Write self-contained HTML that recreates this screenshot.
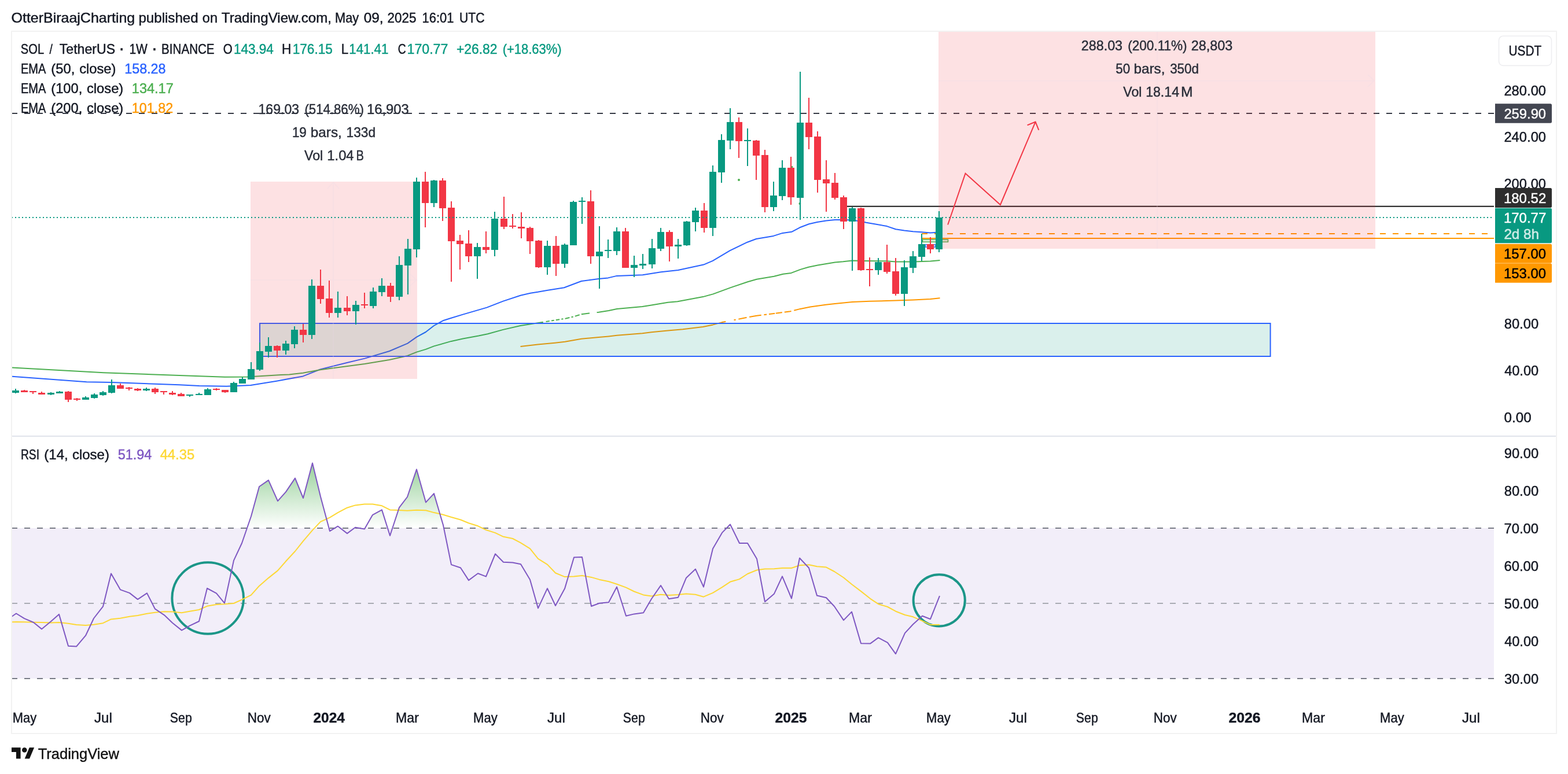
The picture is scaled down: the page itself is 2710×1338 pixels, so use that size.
<!DOCTYPE html>
<html lang="en"><head><meta charset="utf-8"><title>SOL / TetherUS chart</title>
<style>
html,body{margin:0;padding:0;background:#fff;}
body{width:2710px;height:1338px;overflow:hidden;font-family:"Liberation Sans", sans-serif;}
svg{display:block;font-family:"Liberation Sans", sans-serif;}
</style></head><body>
<svg width="2710" height="1338" viewBox="0 0 2710 1338">
<defs>
<linearGradient id="ob" gradientUnits="userSpaceOnUse" x1="0" y1="718" x2="0" y2="913">
<stop offset="0" stop-color="#4caf50" stop-opacity="1"/><stop offset="1" stop-color="#4caf50" stop-opacity="0"/></linearGradient>
<clipPath id="above70"><rect x="20" y="756" width="2562" height="157"/></clipPath>
<clipPath id="plot"><rect x="21" y="55" width="2561" height="1150"/></clipPath>
</defs>
<rect width="2710" height="1338" fill="#fff"/>

<text x="19.57" y="38.7" font-size="24" fill="#131722" stroke="#131722" stroke-width="0.45" textLength="213.65" lengthAdjust="spacingAndGlyphs">OtterBiraajCharting</text>
<text x="239.44" y="38.7" font-size="24" fill="#131722" stroke="#131722" stroke-width="0.45" textLength="103.21" lengthAdjust="spacingAndGlyphs">published</text>
<text x="349.87" y="38.7" font-size="24" fill="#131722" stroke="#131722" stroke-width="0.45" textLength="26.11" lengthAdjust="spacingAndGlyphs">on</text>
<text x="382.85" y="38.7" font-size="24" fill="#131722" stroke="#131722" stroke-width="0.45" textLength="190.18" lengthAdjust="spacingAndGlyphs">TradingView.com,</text>
<text x="579.01" y="38.7" font-size="24" fill="#131722" stroke="#131722" stroke-width="0.45" textLength="41.15" lengthAdjust="spacingAndGlyphs">May</text>
<text x="628.74" y="38.7" font-size="24" fill="#131722" stroke="#131722" stroke-width="0.45" textLength="33.86" lengthAdjust="spacingAndGlyphs">09,</text>
<text x="669.46" y="38.7" font-size="24" fill="#131722" stroke="#131722" stroke-width="0.45" textLength="49.93" lengthAdjust="spacingAndGlyphs">2025</text>
<text x="729.53" y="38.7" font-size="24" fill="#131722" stroke="#131722" stroke-width="0.45" textLength="54.81" lengthAdjust="spacingAndGlyphs">16:01</text>
<text x="793.98" y="38.7" font-size="24" fill="#131722" stroke="#131722" stroke-width="0.45" textLength="43.53" lengthAdjust="spacingAndGlyphs">UTC</text>
<rect x="20" y="54" width="2670" height="1214" fill="none" stroke="#f2f2f2" stroke-width="2"/>
<rect x="21" y="753" width="2668" height="2" fill="#e0e3eb"/>
<g clip-path="url(#plot)">
<rect x="21" y="913" width="2561" height="260" fill="#7e57c2" fill-opacity="0.1"/>
<line x1="20" y1="913" x2="2582" y2="913" stroke="#787b86" stroke-width="2" stroke-dasharray="10 12"/>
<line x1="20" y1="1043" x2="2582" y2="1043" stroke="#a9abb3" stroke-width="2" stroke-dasharray="10 12"/>
<line x1="20" y1="1173" x2="2582" y2="1173" stroke="#787b86" stroke-width="2" stroke-dasharray="10 12"/>
<polyline points="20.0,650.6 149.7,660.2 193.0,661.1 310.0,665.2 344.3,667.0 391.5,667.8 433.2,665.9 478.0,658.7 523.6,650.4 553.5,638.5 600.6,626.7 630.5,619.6 673.0,607.0 704.4,593.6 720.0,582.6 735.8,574.0 750.0,563.0 765.7,554.3 779.9,549.7 800.0,543.6 841.3,531.6 869.6,520.6 899.5,510.7 916.8,506.7 929.4,504.8 945.1,502.0 975.0,497.3 1004.8,486.0 1034.7,481.9 1051.0,480.4 1066.0,476.9 1110.8,475.3 1142.2,470.2 1172.0,467.0 1216.0,457.6 1231.8,450.8 1261.7,433.2 1291.6,418.7 1307.0,413.0 1336.8,407.9 1352.5,402.9 1368.2,400.8 1382.4,393.3 1398.1,387.2 1412.3,384.0 1428.0,381.5 1442.9,379.9 1457.9,379.9 1473.6,380.4 1487.7,382.8 1497.2,384.8 1516.0,388.0 1532.9,391.1 1548.0,396.3 1562.9,398.5 1578.0,400.2 1593.0,401.3 1608.0,402.4 1623.0,401.6" fill="none" stroke="#2962ff" stroke-width="2" stroke-linejoin="round"/>
<polyline points="20.0,635.4 178.9,644.2 310.0,648.9 388.4,651.8 427.7,651.4 485.8,648.1 500.0,647.4 523.6,644.7 553.5,639.2 600.6,633.0 630.5,629.0 673.0,622.0 704.4,614.9 720.0,608.6 735.8,603.9 750.0,598.4 779.9,589.9 800.0,585.5 827.2,580.6 842.9,577.2 869.6,569.9 899.5,563.0 921.5,559.4 945.1,555.8 962.4,553.1 978.1,550.4 990.7,547.6 1004.8,543.2 1020.6,541.3 1034.7,539.7 1052.0,536.9 1066.2,533.9 1110.2,530.0 1125.9,527.5 1154.2,522.8 1171.0,521.3 1215.0,513.1 1232.3,508.4 1262.2,497.4 1292.1,487.2 1307.8,482.8 1337.7,477.7 1353.4,473.8 1367.5,471.9 1383.3,465.9 1397.4,461.7 1413.1,458.4 1443.0,453.4 1457.2,452.3 1472.9,450.5 1494.9,451.0 1532.6,451.3 1548.0,452.4 1578.0,452.4 1593.0,451.9 1608.0,451.6 1624.5,450.1" fill="none" stroke="#4caf50" stroke-width="2" stroke-linejoin="round"/>
<polyline points="899.5,599.0 929.4,595.6 959.2,592.7 976.5,590.8 1004.8,585.7 1034.7,583.0 1052.0,581.4 1066.2,579.8 1110.2,576.2 1125.9,574.3 1154.2,571.5 1180.0,569.2 1215.0,565.0 1232.3,561.4 1248.0,557.1 1262.2,554.5 1292.1,548.5 1307.8,545.7 1337.7,541.9 1366.0,538.3 1383.3,533.9 1400.6,530.4 1427.3,526.8 1443.0,524.9 1473.0,522.1 1503.0,520.8 1548.0,519.6 1578.0,518.5 1608.0,516.9 1624.5,515.3" fill="none" stroke="#ff9800" stroke-width="2" stroke-linejoin="round"/>
<path d="M938.8 556.8L943.5 556.0M949.8 555.1L953.0 554.6M957.7 553.8L960.8 553.3M967.1 552.3L970.3 551.7M973.4 551.2L976.5 550.7M984.4 549.0L987.5 548.3M990.7 547.6L993.8 546.6M1001.7 544.2L1004.8 543.2M1019.0 541.5L1020.6 541.3L1031.6 540.1" fill="none" stroke="#fff" stroke-width="3.6"/>
<path d="M1254.3 555.9L1262.2 554.5L1268.5 553.2M1271.6 552.6L1276.4 551.7M1290.5 548.8L1292.1 548.5L1295.2 547.9M1315.7 544.7L1320.4 544.1M1325.1 543.5L1329.0 543.0M1339.2 541.7L1340.8 541.5M1351.8 540.1L1355.8 539.6M1367.5 537.9L1372.3 536.7" fill="none" stroke="#fff" stroke-width="3.6"/>
<circle cx="1277" cy="311" r="2" fill="#4caf50"/><circle cx="1382.4" cy="352" r="2" fill="#4caf50"/><circle cx="1369" cy="288.5" r="1.6" fill="#4caf50"/>
<line x1="20" y1="196" x2="2582" y2="196" stroke="#363a45" stroke-width="2" stroke-dasharray="10 12"/>
<line x1="1464" y1="356.7" x2="2582" y2="356.7" stroke="#1a1a1a" stroke-width="2"/>
<line x1="1593" y1="404" x2="2582" y2="404" stroke="#ff9800" stroke-width="2" stroke-dasharray="10 12"/>
<line x1="1594" y1="412" x2="2582" y2="412" stroke="#ff9800" stroke-width="2"/>
<rect x="1594.5" y="414.2" width="44" height="4" fill="#e8f5e9" stroke="#4caf50" stroke-width="1.5"/>
<rect x="1599" y="423" width="18" height="4" fill="#e3f2fd" stroke="#2962ff" stroke-width="1.5"/>
<rect x="449" y="559" width="1746.6" height="57" fill="#089981" fill-opacity="0.15" stroke="#2962ff" stroke-width="2"/>
<rect x="433" y="314" width="288" height="341" fill="#f23645" fill-opacity="0.15"/>
<rect x="1622" y="55" width="755" height="375" fill="#f23645" fill-opacity="0.15"/>
<g stroke="#ecd9e8" stroke-opacity="0.3" stroke-width="1.5" fill="none"><path d="M576 655V315M566 326l10-11 10 11M433 484H720M709 474l11 10-11 10"/><path d="M2000 430V55M1622 139.8H2376M2364 129l11 10.5-11 10.5"/></g>
<path d="M26 672h2V680h-2zM21 675h12V679h-12zM87 678h2V683h-2zM82 679h12V682h-12zM102 676h2V680h-2zM97 677h12V680h-12zM147 685h2V691h-2zM142 687h12V691h-12zM162 680h2V689h-2zM157 682h12V688h-12zM177 676h2V684h-2zM172 678h12V683h-12zM192 656h2V680h-2zM187 666h12V679h-12zM252 670h2V676h-2zM247 672h12V675h-12zM327 682h2V686h-2zM322 682h12V684h-12zM343 679h2V683h-2zM338 681h12V683h-12zM358 671h2V683h-2zM353 673h12V683h-12zM403 660h2V678h-2zM398 662h12V678h-12zM418 652h2V663h-2zM413 655h12V663h-12zM433 626h2V656h-2zM428 638h12V656h-12zM448 592h2V641h-2zM443 607h12V639h-12zM463 583h2V618h-2zM458 598h12V608h-12zM493 589h2V613h-2zM488 594h12V606h-12zM508 564h2V602h-2zM503 570h12V595h-12zM538 483h2V586h-2zM533 494h12V579h-12zM583 504h2V549h-2zM578 532h12V541h-12zM614 520h2V561h-2zM609 527h12V538h-12zM644 497h2V533h-2zM639 504h12V529h-12zM659 481h2V512h-2zM654 494h12V505h-12zM689 443h2V519h-2zM684 458h12V513h-12zM704 413h2V509h-2zM699 430h12V459h-12zM719 307h2V445h-2zM714 314h12V431h-12zM749 311h2V358h-2zM744 312h12V351h-12zM824 420h2V482h-2zM819 427h12V443h-12zM854 366h2V443h-2zM849 378h12V432h-12zM945 416h2V475h-2zM940 425h12V462h-12zM975 421h2V463h-2zM970 423h12V456h-12zM990 347h2V424h-2zM985 349h12V424h-12zM1005 341h2V387h-2zM1000 347h12V349h-12zM1035 391h2V499h-2zM1030 435h12V443h-12zM1050 414h2V446h-2zM1045 432h12V434h-12zM1065 393h2V441h-2zM1060 400h12V434h-12zM1095 442h2V479h-2zM1090 458h12V463h-12zM1110 439h2V465h-2zM1105 456h12V459h-12zM1126 413h2V464h-2zM1121 429h12V457h-12zM1141 394h2V434h-2zM1136 401h12V430h-12zM1171 413h2V447h-2zM1166 423h12V426h-12zM1186 382h2V425h-2zM1181 383h12V424h-12zM1201 359h2V400h-2zM1196 364h12V384h-12zM1231 286h2V408h-2zM1226 297h12V394h-12zM1246 232h2V316h-2zM1241 242h12V298h-12zM1261 187h2V258h-2zM1256 211h12V243h-12zM1291 222h2V287h-2zM1286 242h12V244h-12zM1336 314h2V365h-2zM1331 338h12V358h-12zM1351 277h2V346h-2zM1346 290h12V339h-12zM1382 124h2V380h-2zM1377 212h12V342h-12zM1472 358h2V468h-2zM1467 360h12V383h-12zM1517 446h2V475h-2zM1512 453h12V467h-12zM1562 450h2V529h-2zM1557 462h12V508h-12zM1577 434h2V472h-2zM1572 443h12V463h-12zM1592 404h2V451h-2zM1587 422h12V444h-12zM1622 365h2V436h-2zM1617 376h12V431h-12z" fill="#089981"/>
<path d="M41 674h2V678h-2zM36 675h12V678h-12zM56 676h2V681h-2zM51 676h12V678h-12zM71 677h2V682h-2zM66 679h12V682h-12zM117 676h2V695h-2zM112 677h12V691h-12zM132 688h2V693h-2zM127 689h12V691h-12zM207 663h2V672h-2zM202 666h12V672h-12zM222 669h2V675h-2zM217 670h12V672h-12zM237 671h2V676h-2zM232 672h12V675h-12zM267 670h2V681h-2zM262 672h12V678h-12zM282 676h2V682h-2zM277 676h12V678h-12zM297 676h2V683h-2zM292 679h12V682h-12zM312 679h2V685h-2zM307 681h12V685h-12zM373 671h2V675h-2zM368 672h12V674h-12zM388 674h2V679h-2zM383 674h12V678h-12zM478 597h2V618h-2zM473 598h12V606h-12zM523 560h2V592h-2zM518 570h12V579h-12zM553 466h2V525h-2zM548 494h12V517h-12zM568 485h2V549h-2zM563 516h12V541h-12zM599 512h2V545h-2zM594 532h12V538h-12zM629 506h2V533h-2zM624 526h12V528h-12zM674 489h2V522h-2zM669 494h12V513h-12zM734 297h2V393h-2zM729 314h12V351h-12zM764 308h2V382h-2zM759 312h12V360h-12zM779 348h2V487h-2zM774 359h12V417h-12zM794 406h2V466h-2zM789 416h12V422h-12zM809 398h2V453h-2zM804 421h12V443h-12zM839 400h2V438h-2zM834 427h12V432h-12zM870 340h2V396h-2zM865 378h12V392h-12zM885 370h2V395h-2zM880 390h12V392h-12zM900 367h2V412h-2zM895 392h12V395h-12zM915 392h2V439h-2zM910 394h12V417h-12zM930 415h2V463h-2zM925 416h12V462h-12zM960 408h2V477h-2zM955 425h12V456h-12zM1020 329h2V456h-2zM1015 348h12V443h-12zM1080 394h2V463h-2zM1075 400h12V463h-12zM1156 398h2V452h-2zM1151 401h12V426h-12zM1216 351h2V402h-2zM1211 364h12V394h-12zM1276 203h2V273h-2zM1271 211h12V244h-12zM1306 242h2V311h-2zM1301 243h12V269h-12zM1321 259h2V367h-2zM1316 268h12V358h-12zM1366 271h2V354h-2zM1361 290h12V341h-12zM1397 169h2V258h-2zM1392 212h12V237h-12zM1412 227h2V333h-2zM1407 236h12V311h-12zM1427 277h2V366h-2zM1422 310h12V317h-12zM1442 299h2V345h-2zM1437 316h12V342h-12zM1457 338h2V396h-2zM1452 341h12V383h-12zM1487 359h2V468h-2zM1482 360h12V467h-12zM1502 445h2V495h-2zM1497 465h12V467h-12zM1532 423h2V473h-2zM1527 453h12V470h-12zM1547 446h2V511h-2zM1542 469h12V508h-12zM1607 410h2V438h-2zM1602 422h12V431h-12z" fill="#f23645"/>
<line x1="20" y1="376" x2="2582" y2="376" stroke="#089981" stroke-width="2" stroke-dasharray="2 4"/>
<path d="M1638.1 388.5L1668.5 299.8L1728.9 354L1789.6 210.6M1775.5 216.4L1789.6 210.6L1795.3 224.9" fill="none" stroke="#f23645" stroke-width="2" stroke-linejoin="miter"/>
<circle cx="359.2" cy="1034" r="61.8" fill="none" stroke="#1b9688" stroke-width="4"/>
<circle cx="1623.2" cy="1037.8" r="44.6" fill="none" stroke="#1b9688" stroke-width="4"/>
<polygon points="20,913 20.0,1066.1 28.0,1060.5 42.0,1069.2 58.0,1076.0 72.0,1087.4 88.0,1074.3 102.0,1061.9 118.0,1116.8 132.0,1117.6 148.0,1098.7 162.0,1069.0 178.0,1048.4 192.0,991.4 208.0,1019.4 224.0,1025.1 238.0,1036.1 254.0,1025.4 268.0,1052.7 284.0,1063.3 298.0,1076.7 314.0,1089.6 328.0,1081.7 344.0,1074.0 358.0,1017.0 374.0,1025.7 388.0,1042.6 404.0,968.9 418.0,939.0 434.0,892.5 448.0,841.3 464.0,830.1 480.0,866.1 494.0,850.4 510.0,826.6 524.0,861.0 540.0,800.4 554.0,858.6 570.0,918.2 584.0,909.7 600.0,922.1 614.0,911.7 630.0,914.6 644.0,890.1 660.0,881.4 674.0,926.0 690.0,877.3 704.0,859.0 720.0,811.4 736.0,868.4 750.0,853.1 766.0,907.8 780.0,976.1 796.0,981.5 810.0,1003.1 826.0,991.3 840.0,996.6 856.0,957.5 870.0,971.8 886.0,972.5 900.0,975.2 916.0,1001.9 930.0,1051.4 946.0,1017.2 960.0,1047.0 976.0,1017.6 992.0,963.5 1006.0,963.1 1022.0,1048.0 1036.0,1042.7 1052.0,1041.2 1066.0,1014.6 1082.0,1064.7 1096.0,1061.4 1112.0,1059.2 1126.0,1035.3 1142.0,1012.1 1156.0,1035.3 1172.0,1032.7 1186.0,998.9 1202.0,983.8 1216.0,1014.6 1232.0,948.4 1248.0,920.9 1262.0,906.5 1278.0,939.0 1292.0,939.0 1308.0,965.9 1322.0,1040.2 1338.0,1026.4 1352.0,996.4 1368.0,1034.5 1382.0,964.7 1398.0,981.7 1412.0,1029.6 1428.0,1033.2 1442.0,1048.2 1458.0,1072.1 1472.0,1057.6 1488.0,1112.2 1504.0,1112.6 1518.0,1102.4 1534.0,1110.9 1548.0,1130.3 1564.0,1094.4 1578.0,1079.2 1594.0,1064.7 1608.0,1070.2 1624.0,1030.1 1624,913" fill="url(#ob)" clip-path="url(#above70)"/>
<polyline points="20.0,1075.3 28.0,1074.9 42.0,1075.3 58.0,1075.7 72.0,1076.0 88.0,1076.5 102.0,1076.0 118.0,1077.7 132.0,1080.0 148.0,1081.0 162.0,1079.7 178.0,1077.2 192.0,1070.4 208.0,1068.7 224.0,1065.8 238.0,1064.0 254.0,1060.7 268.0,1058.8 284.0,1057.2 298.0,1057.6 314.0,1059.2 328.0,1056.8 344.0,1054.0 358.0,1047.8 374.0,1045.0 388.0,1044.3 404.0,1043.0 418.0,1036.7 434.0,1028.6 448.0,1012.9 464.0,999.1 480.0,986.4 494.0,970.3 510.0,953.0 524.0,935.3 540.0,916.6 554.0,901.9 570.0,894.6 584.0,886.1 600.0,877.7 614.0,873.4 630.0,871.4 644.0,871.6 660.0,874.3 674.0,881.4 690.0,882.0 704.0,882.8 720.0,881.8 736.0,882.2 750.0,886.1 766.0,889.7 780.0,894.0 796.0,898.5 810.0,904.2 826.0,909.3 840.0,916.0 856.0,921.1 870.0,927.8 886.0,931.0 900.0,938.3 916.0,948.4 930.0,965.9 946.0,975.9 960.0,990.5 976.0,997.1 992.0,996.5 1006.0,995.0 1022.0,997.9 1036.0,1001.9 1052.0,1005.2 1066.0,1009.7 1082.0,1015.6 1096.0,1022.5 1112.0,1028.4 1126.0,1030.4 1142.0,1027.8 1156.0,1029.0 1172.0,1028.0 1186.0,1026.4 1202.0,1027.8 1216.0,1031.7 1232.0,1024.9 1248.0,1015.2 1262.0,1005.8 1278.0,1001.1 1292.0,992.0 1308.0,985.5 1322.0,983.6 1338.0,983.2 1352.0,982.0 1368.0,982.0 1382.0,977.3 1398.0,976.2 1412.0,979.3 1428.0,980.6 1442.0,988.0 1458.0,998.5 1472.0,1010.0 1488.0,1022.1 1504.0,1034.8 1518.0,1044.2 1534.0,1049.0 1548.0,1056.7 1564.0,1063.0 1578.0,1066.3 1594.0,1073.3 1608.0,1079.9 1624.0,1079.9" fill="none" stroke="#fdd835" stroke-width="2" stroke-linejoin="round"/>
<polyline points="20.0,1066.1 28.0,1060.5 42.0,1069.2 58.0,1076.0 72.0,1087.4 88.0,1074.3 102.0,1061.9 118.0,1116.8 132.0,1117.6 148.0,1098.7 162.0,1069.0 178.0,1048.4 192.0,991.4 208.0,1019.4 224.0,1025.1 238.0,1036.1 254.0,1025.4 268.0,1052.7 284.0,1063.3 298.0,1076.7 314.0,1089.6 328.0,1081.7 344.0,1074.0 358.0,1017.0 374.0,1025.7 388.0,1042.6 404.0,968.9 418.0,939.0 434.0,892.5 448.0,841.3 464.0,830.1 480.0,866.1 494.0,850.4 510.0,826.6 524.0,861.0 540.0,800.4 554.0,858.6 570.0,918.2 584.0,909.7 600.0,922.1 614.0,911.7 630.0,914.6 644.0,890.1 660.0,881.4 674.0,926.0 690.0,877.3 704.0,859.0 720.0,811.4 736.0,868.4 750.0,853.1 766.0,907.8 780.0,976.1 796.0,981.5 810.0,1003.1 826.0,991.3 840.0,996.6 856.0,957.5 870.0,971.8 886.0,972.5 900.0,975.2 916.0,1001.9 930.0,1051.4 946.0,1017.2 960.0,1047.0 976.0,1017.6 992.0,963.5 1006.0,963.1 1022.0,1048.0 1036.0,1042.7 1052.0,1041.2 1066.0,1014.6 1082.0,1064.7 1096.0,1061.4 1112.0,1059.2 1126.0,1035.3 1142.0,1012.1 1156.0,1035.3 1172.0,1032.7 1186.0,998.9 1202.0,983.8 1216.0,1014.6 1232.0,948.4 1248.0,920.9 1262.0,906.5 1278.0,939.0 1292.0,939.0 1308.0,965.9 1322.0,1040.2 1338.0,1026.4 1352.0,996.4 1368.0,1034.5 1382.0,964.7 1398.0,981.7 1412.0,1029.6 1428.0,1033.2 1442.0,1048.2 1458.0,1072.1 1472.0,1057.6 1488.0,1112.2 1504.0,1112.6 1518.0,1102.4 1534.0,1110.9 1548.0,1130.3 1564.0,1094.4 1578.0,1079.2 1594.0,1064.7 1608.0,1070.2 1624.0,1030.1" fill="none" stroke="#7e57c2" stroke-width="2" stroke-linejoin="round"/>
</g>
<text x="446.56" y="196.7" font-size="24" fill="#2a2e39" stroke="#2a2e39" stroke-width="0.45" textLength="70.47" lengthAdjust="spacingAndGlyphs">169.03</text>
<text x="526.44" y="196.7" font-size="24" fill="#2a2e39" stroke="#2a2e39" stroke-width="0.45" textLength="102.40" lengthAdjust="spacingAndGlyphs">(514.86%)</text>
<text x="634.01" y="196.7" font-size="24" fill="#2a2e39" stroke="#2a2e39" stroke-width="0.45" textLength="72.84" lengthAdjust="spacingAndGlyphs">16,903</text>
<text x="504.90" y="236.6" font-size="24" fill="#2a2e39" stroke="#2a2e39" stroke-width="0.45" textLength="24.96" lengthAdjust="spacingAndGlyphs">19</text>
<text x="536.83" y="236.6" font-size="24" fill="#2a2e39" stroke="#2a2e39" stroke-width="0.45" textLength="54.05" lengthAdjust="spacingAndGlyphs">bars,</text>
<text x="598.58" y="236.6" font-size="24" fill="#2a2e39" stroke="#2a2e39" stroke-width="0.45" textLength="50.50" lengthAdjust="spacingAndGlyphs">133d</text>
<text x="525.94" y="276.8" font-size="24" fill="#2a2e39" stroke="#2a2e39" stroke-width="0.45" textLength="32.29" lengthAdjust="spacingAndGlyphs">Vol</text>
<text x="565.32" y="276.8" font-size="24" fill="#2a2e39" stroke="#2a2e39" stroke-width="0.45" textLength="46.25" lengthAdjust="spacingAndGlyphs">1.04</text>
<text x="615.43" y="276.8" font-size="24" fill="#2a2e39" stroke="#2a2e39" stroke-width="0.45" textLength="13.42" lengthAdjust="spacingAndGlyphs">B</text>
<text x="1868.83" y="86.7" font-size="24" fill="#2a2e39" stroke="#2a2e39" stroke-width="0.45" textLength="71.21" lengthAdjust="spacingAndGlyphs">288.03</text>
<text x="1949.23" y="86.7" font-size="24" fill="#2a2e39" stroke="#2a2e39" stroke-width="0.45" textLength="102.41" lengthAdjust="spacingAndGlyphs">(200.11%)</text>
<text x="2058.63" y="86.7" font-size="24" fill="#2a2e39" stroke="#2a2e39" stroke-width="0.45" textLength="71.51" lengthAdjust="spacingAndGlyphs">28,803</text>
<text x="1928.30" y="126.6" font-size="24" fill="#2a2e39" stroke="#2a2e39" stroke-width="0.45" textLength="24.85" lengthAdjust="spacingAndGlyphs">50</text>
<text x="1959.64" y="126.6" font-size="24" fill="#2a2e39" stroke="#2a2e39" stroke-width="0.45" textLength="53.84" lengthAdjust="spacingAndGlyphs">bars,</text>
<text x="2022.13" y="126.6" font-size="24" fill="#2a2e39" stroke="#2a2e39" stroke-width="0.45" textLength="49.93" lengthAdjust="spacingAndGlyphs">350d</text>
<text x="1941.34" y="166.8" font-size="24" fill="#2a2e39" stroke="#2a2e39" stroke-width="0.45" textLength="31.98" lengthAdjust="spacingAndGlyphs">Vol</text>
<text x="1980.16" y="166.8" font-size="24" fill="#2a2e39" stroke="#2a2e39" stroke-width="0.45" textLength="57.85" lengthAdjust="spacingAndGlyphs">18.14</text>
<text x="2040.91" y="166.8" font-size="24" fill="#2a2e39" stroke="#2a2e39" stroke-width="0.45" textLength="20.48" lengthAdjust="spacingAndGlyphs">M</text>
<text x="35.87" y="92.7" font-size="24" fill="#131722" stroke="#131722" stroke-width="0.45" textLength="40.22" lengthAdjust="spacingAndGlyphs">SOL</text>
<text x="85.50" y="92.7" font-size="24" fill="#131722" stroke="#131722" stroke-width="0.45" textLength="5.34" lengthAdjust="spacingAndGlyphs">/</text>
<text x="102.76" y="92.7" font-size="24" fill="#131722" stroke="#131722" stroke-width="0.45" textLength="96.31" lengthAdjust="spacingAndGlyphs">TetherUS</text>
<text x="223.39" y="92.7" font-size="24" fill="#131722" stroke="#131722" stroke-width="0.45" textLength="31.49" lengthAdjust="spacingAndGlyphs">1W</text>
<text x="279.10" y="92.7" font-size="24" fill="#131722" stroke="#131722" stroke-width="0.45" textLength="91.49" lengthAdjust="spacingAndGlyphs">BINANCE</text>
<text x="385.66" y="92.7" font-size="24" fill="#131722" stroke="#131722" stroke-width="0.45" textLength="15.93" lengthAdjust="spacingAndGlyphs">O</text>
<text x="487.05" y="92.7" font-size="24" fill="#131722" stroke="#131722" stroke-width="0.45" textLength="16.35" lengthAdjust="spacingAndGlyphs">H</text>
<text x="589.68" y="92.7" font-size="24" fill="#131722" stroke="#131722" stroke-width="0.45" textLength="12.39" lengthAdjust="spacingAndGlyphs">L</text>
<text x="687.80" y="92.7" font-size="24" fill="#131722" stroke="#131722" stroke-width="0.45" textLength="13.88" lengthAdjust="spacingAndGlyphs">C</text>
<text x="205.05" y="94.2" font-size="32" fill="#131722" stroke="#131722" stroke-width="0.45" textLength="10.51" lengthAdjust="spacingAndGlyphs">·</text>
<text x="261.55" y="94.2" font-size="32" fill="#131722" stroke="#131722" stroke-width="0.45" textLength="10.80" lengthAdjust="spacingAndGlyphs">·</text>
<text x="403.99" y="92.7" font-size="24" fill="#089981" stroke="#089981" stroke-width="0.45" textLength="68.89" lengthAdjust="spacingAndGlyphs">143.94</text>
<text x="505.69" y="92.7" font-size="24" fill="#089981" stroke="#089981" stroke-width="0.45" textLength="69.13" lengthAdjust="spacingAndGlyphs">176.15</text>
<text x="603.31" y="92.7" font-size="24" fill="#089981" stroke="#089981" stroke-width="0.45" textLength="68.03" lengthAdjust="spacingAndGlyphs">141.41</text>
<text x="703.55" y="92.7" font-size="24" fill="#089981" stroke="#089981" stroke-width="0.45" textLength="70.82" lengthAdjust="spacingAndGlyphs">170.77</text>
<text x="788.99" y="92.7" font-size="24" fill="#089981" stroke="#089981" stroke-width="0.45" textLength="70.50" lengthAdjust="spacingAndGlyphs">+26.82</text>
<text x="868.76" y="92.7" font-size="24" fill="#089981" stroke="#089981" stroke-width="0.45" textLength="101.80" lengthAdjust="spacingAndGlyphs">(+18.63%)</text>
<text x="35.99" y="126.9" font-size="24" fill="#131722" stroke="#131722" stroke-width="0.45" textLength="43.36" lengthAdjust="spacingAndGlyphs">EMA</text>
<text x="88.36" y="126.9" font-size="24" fill="#131722" stroke="#131722" stroke-width="0.45" textLength="40.98" lengthAdjust="spacingAndGlyphs">(50,</text>
<text x="137.16" y="126.9" font-size="24" fill="#131722" stroke="#131722" stroke-width="0.45" textLength="63.31" lengthAdjust="spacingAndGlyphs">close)</text>
<text x="215.24" y="126.9" font-size="24" fill="#2962ff" stroke="#2962ff" stroke-width="0.45" textLength="71.29" lengthAdjust="spacingAndGlyphs">158.28</text>
<text x="35.99" y="160.9" font-size="24" fill="#131722" stroke="#131722" stroke-width="0.45" textLength="43.36" lengthAdjust="spacingAndGlyphs">EMA</text>
<text x="88.37" y="160.9" font-size="24" fill="#131722" stroke="#131722" stroke-width="0.45" textLength="53.85" lengthAdjust="spacingAndGlyphs">(100,</text>
<text x="149.96" y="160.9" font-size="24" fill="#131722" stroke="#131722" stroke-width="0.45" textLength="63.31" lengthAdjust="spacingAndGlyphs">close)</text>
<text x="227.83" y="160.9" font-size="24" fill="#4caf50" stroke="#4caf50" stroke-width="0.45" textLength="71.96" lengthAdjust="spacingAndGlyphs">134.17</text>
<text x="35.99" y="194.9" font-size="24" fill="#131722" stroke="#131722" stroke-width="0.45" textLength="43.36" lengthAdjust="spacingAndGlyphs">EMA</text>
<text x="88.37" y="194.9" font-size="24" fill="#131722" stroke="#131722" stroke-width="0.45" textLength="53.85" lengthAdjust="spacingAndGlyphs">(200,</text>
<text x="149.96" y="194.9" font-size="24" fill="#131722" stroke="#131722" stroke-width="0.45" textLength="63.31" lengthAdjust="spacingAndGlyphs">close)</text>
<text x="227.84" y="194.9" font-size="24" fill="#ff9800" stroke="#ff9800" stroke-width="0.45" textLength="71.34" lengthAdjust="spacingAndGlyphs">101.82</text>
<text x="35.90" y="794.3" font-size="24" fill="#131722" stroke="#131722" stroke-width="0.45" textLength="32.12" lengthAdjust="spacingAndGlyphs">RSI</text>
<text x="76.35" y="794.3" font-size="24" fill="#131722" stroke="#131722" stroke-width="0.45" textLength="41.31" lengthAdjust="spacingAndGlyphs">(14,</text>
<text x="124.95" y="794.3" font-size="24" fill="#131722" stroke="#131722" stroke-width="0.45" textLength="63.93" lengthAdjust="spacingAndGlyphs">close)</text>
<text x="203.77" y="794.3" font-size="24" fill="#7e57c2" stroke="#7e57c2" stroke-width="0.45" textLength="58.64" lengthAdjust="spacingAndGlyphs">51.94</text>
<text x="276.65" y="794.3" font-size="24" fill="#fdd835" stroke="#fdd835" stroke-width="0.45" textLength="59.55" lengthAdjust="spacingAndGlyphs">44.35</text>
<rect x="2590.5" y="62.2" width="91" height="51.2" rx="7.5" fill="#fff" stroke="#ededf0" stroke-width="1.6"/>
<text x="2607.50" y="95.6" font-size="24" fill="#131722" stroke="#131722" stroke-width="0.45" textLength="56.70" lengthAdjust="spacingAndGlyphs">USDT</text>
<text x="2599.41" y="164.6" font-size="24" fill="#131722" stroke="#131722" stroke-width="0.45" textLength="72.64" lengthAdjust="spacingAndGlyphs">280.00</text>
<text x="2599.41" y="245.3" font-size="24" fill="#131722" stroke="#131722" stroke-width="0.45" textLength="72.64" lengthAdjust="spacingAndGlyphs">240.00</text>
<text x="2599.41" y="326.1" font-size="24" fill="#131722" stroke="#131722" stroke-width="0.45" textLength="72.64" lengthAdjust="spacingAndGlyphs">200.00</text>
<text x="2599.66" y="568.2" font-size="24" fill="#131722" stroke="#131722" stroke-width="0.45" textLength="59.50" lengthAdjust="spacingAndGlyphs">80.00</text>
<text x="2600.15" y="649.0" font-size="24" fill="#131722" stroke="#131722" stroke-width="0.45" textLength="59.00" lengthAdjust="spacingAndGlyphs">40.00</text>
<text x="2599.64" y="729.7" font-size="24" fill="#131722" stroke="#131722" stroke-width="0.45" textLength="47.08" lengthAdjust="spacingAndGlyphs">0.00</text>
<text x="2599.66" y="792.2" font-size="24" fill="#131722" stroke="#131722" stroke-width="0.45" textLength="59.50" lengthAdjust="spacingAndGlyphs">90.00</text>
<text x="2599.66" y="857.2" font-size="24" fill="#131722" stroke="#131722" stroke-width="0.45" textLength="59.50" lengthAdjust="spacingAndGlyphs">80.00</text>
<text x="2599.41" y="922.2" font-size="24" fill="#131722" stroke="#131722" stroke-width="0.45" textLength="59.75" lengthAdjust="spacingAndGlyphs">70.00</text>
<text x="2599.41" y="987.2" font-size="24" fill="#131722" stroke="#131722" stroke-width="0.45" textLength="59.75" lengthAdjust="spacingAndGlyphs">60.00</text>
<text x="2599.66" y="1052.2" font-size="24" fill="#131722" stroke="#131722" stroke-width="0.45" textLength="59.50" lengthAdjust="spacingAndGlyphs">50.00</text>
<text x="2600.15" y="1117.2" font-size="24" fill="#131722" stroke="#131722" stroke-width="0.45" textLength="59.00" lengthAdjust="spacingAndGlyphs">40.00</text>
<text x="2599.91" y="1182.2" font-size="24" fill="#131722" stroke="#131722" stroke-width="0.45" textLength="59.25" lengthAdjust="spacingAndGlyphs">30.00</text>
<path d="M2584 179.3H2679.5a2.5 2.5 0 0 1 2.5 2.5V210.3a2.5 2.5 0 0 1 -2.5 2.5H2584z" fill="#434651"/>
<text x="2599.41" y="204.6" font-size="24" fill="#fff" stroke="#fff" stroke-width="0.45" textLength="72.64" lengthAdjust="spacingAndGlyphs">259.90</text>
<path d="M2584 325H2679.5a2.5 2.5 0 0 1 2.5 2.5V356.5a2.5 2.5 0 0 1 -2.5 2.5H2584z" fill="#2e2e2e"/>
<text x="2598.90" y="351.0" font-size="24" fill="#fff" stroke="#fff" stroke-width="0.45" textLength="73.41" lengthAdjust="spacingAndGlyphs">180.52</text>
<path d="M2584 359.7H2679.5a2.5 2.5 0 0 1 2.5 2.5V417.8a2.5 2.5 0 0 1 -2.5 2.5H2584z" fill="#089981"/>
<text x="2598.90" y="384.9" font-size="24" fill="#fff" stroke="#fff" stroke-width="0.45" textLength="73.41" lengthAdjust="spacingAndGlyphs">170.77</text>
<text x="2599.39" y="412.8" font-size="24" fill="#fff" stroke="#fff" stroke-width="0.45" textLength="60.53" lengthAdjust="spacingAndGlyphs" fill-opacity="0.72">2d 8h</text>
<path d="M2584 421.7H2679.5a2.5 2.5 0 0 1 2.5 2.5V452.3a2.5 2.5 0 0 1 -2.5 2.5H2584z" fill="#ff9800"/>
<text x="2598.91" y="447.0" font-size="24" fill="#000" stroke="#000" stroke-width="0.45" textLength="73.15" lengthAdjust="spacingAndGlyphs">157.00</text>
<path d="M2584 455.2H2679.5a2.5 2.5 0 0 1 2.5 2.5V486.2a2.5 2.5 0 0 1 -2.5 2.5H2584z" fill="#ff9800"/>
<text x="2598.91" y="480.7" font-size="24" fill="#000" stroke="#000" stroke-width="0.45" textLength="73.15" lengthAdjust="spacingAndGlyphs">153.00</text>
<text x="21.81" y="1249.2" font-size="24" fill="#131722" stroke="#131722" stroke-width="0.45" textLength="41.25" lengthAdjust="spacingAndGlyphs">May</text>
<text x="163.05" y="1249.2" font-size="24" fill="#131722" stroke="#131722" stroke-width="0.45" textLength="30.69" lengthAdjust="spacingAndGlyphs">Jul</text>
<text x="293.83" y="1249.2" font-size="24" fill="#131722" stroke="#131722" stroke-width="0.45" textLength="37.89" lengthAdjust="spacingAndGlyphs">Sep</text>
<text x="427.86" y="1249.2" font-size="24" fill="#131722" stroke="#131722" stroke-width="0.45" textLength="39.95" lengthAdjust="spacingAndGlyphs">Nov</text>
<text x="541.49" y="1249.2" font-size="24" fill="#131722" stroke="#131722" stroke-width="0.45" font-weight="bold" textLength="54.40" lengthAdjust="spacingAndGlyphs">2024</text>
<text x="684.12" y="1249.2" font-size="24" fill="#131722" stroke="#131722" stroke-width="0.45" textLength="39.77" lengthAdjust="spacingAndGlyphs">Mar</text>
<text x="818.09" y="1249.2" font-size="24" fill="#131722" stroke="#131722" stroke-width="0.45" textLength="41.66" lengthAdjust="spacingAndGlyphs">May</text>
<text x="946.05" y="1249.2" font-size="24" fill="#131722" stroke="#131722" stroke-width="0.45" textLength="30.69" lengthAdjust="spacingAndGlyphs">Jul</text>
<text x="1076.83" y="1249.2" font-size="24" fill="#131722" stroke="#131722" stroke-width="0.45" textLength="37.89" lengthAdjust="spacingAndGlyphs">Sep</text>
<text x="1210.86" y="1249.2" font-size="24" fill="#131722" stroke="#131722" stroke-width="0.45" textLength="39.95" lengthAdjust="spacingAndGlyphs">Nov</text>
<text x="1339.49" y="1249.2" font-size="24" fill="#131722" stroke="#131722" stroke-width="0.45" font-weight="bold" textLength="54.92" lengthAdjust="spacingAndGlyphs">2025</text>
<text x="1467.12" y="1249.2" font-size="24" fill="#131722" stroke="#131722" stroke-width="0.45" textLength="39.77" lengthAdjust="spacingAndGlyphs">Mar</text>
<text x="1601.09" y="1249.2" font-size="24" fill="#131722" stroke="#131722" stroke-width="0.45" textLength="41.66" lengthAdjust="spacingAndGlyphs">May</text>
<text x="1744.05" y="1249.2" font-size="24" fill="#131722" stroke="#131722" stroke-width="0.45" textLength="30.69" lengthAdjust="spacingAndGlyphs">Jul</text>
<text x="1859.83" y="1249.2" font-size="24" fill="#131722" stroke="#131722" stroke-width="0.45" textLength="37.89" lengthAdjust="spacingAndGlyphs">Sep</text>
<text x="1993.86" y="1249.2" font-size="24" fill="#131722" stroke="#131722" stroke-width="0.45" textLength="39.95" lengthAdjust="spacingAndGlyphs">Nov</text>
<text x="2123.48" y="1249.2" font-size="24" fill="#131722" stroke="#131722" stroke-width="0.45" font-weight="bold" textLength="55.18" lengthAdjust="spacingAndGlyphs">2026</text>
<text x="2250.12" y="1249.2" font-size="24" fill="#131722" stroke="#131722" stroke-width="0.45" textLength="39.77" lengthAdjust="spacingAndGlyphs">Mar</text>
<text x="2385.09" y="1249.2" font-size="24" fill="#131722" stroke="#131722" stroke-width="0.45" textLength="41.66" lengthAdjust="spacingAndGlyphs">May</text>
<text x="2527.05" y="1249.2" font-size="24" fill="#131722" stroke="#131722" stroke-width="0.45" textLength="30.69" lengthAdjust="spacingAndGlyphs">Jul</text>
<g fill="#131313"><path d="M20 1292.2H35.6V1311.4H27.9V1299.9H20z"/><circle cx="42.3" cy="1296.5" r="4.3"/><path d="M50.8 1292.2H59.1L51 1311.4H42.7z"/></g>
<text x="65.65" y="1311.7" font-size="26" fill="#131313" stroke="#131313" stroke-width="0.45" textLength="140.33" lengthAdjust="spacingAndGlyphs">TradingView</text>
</svg></body></html>
